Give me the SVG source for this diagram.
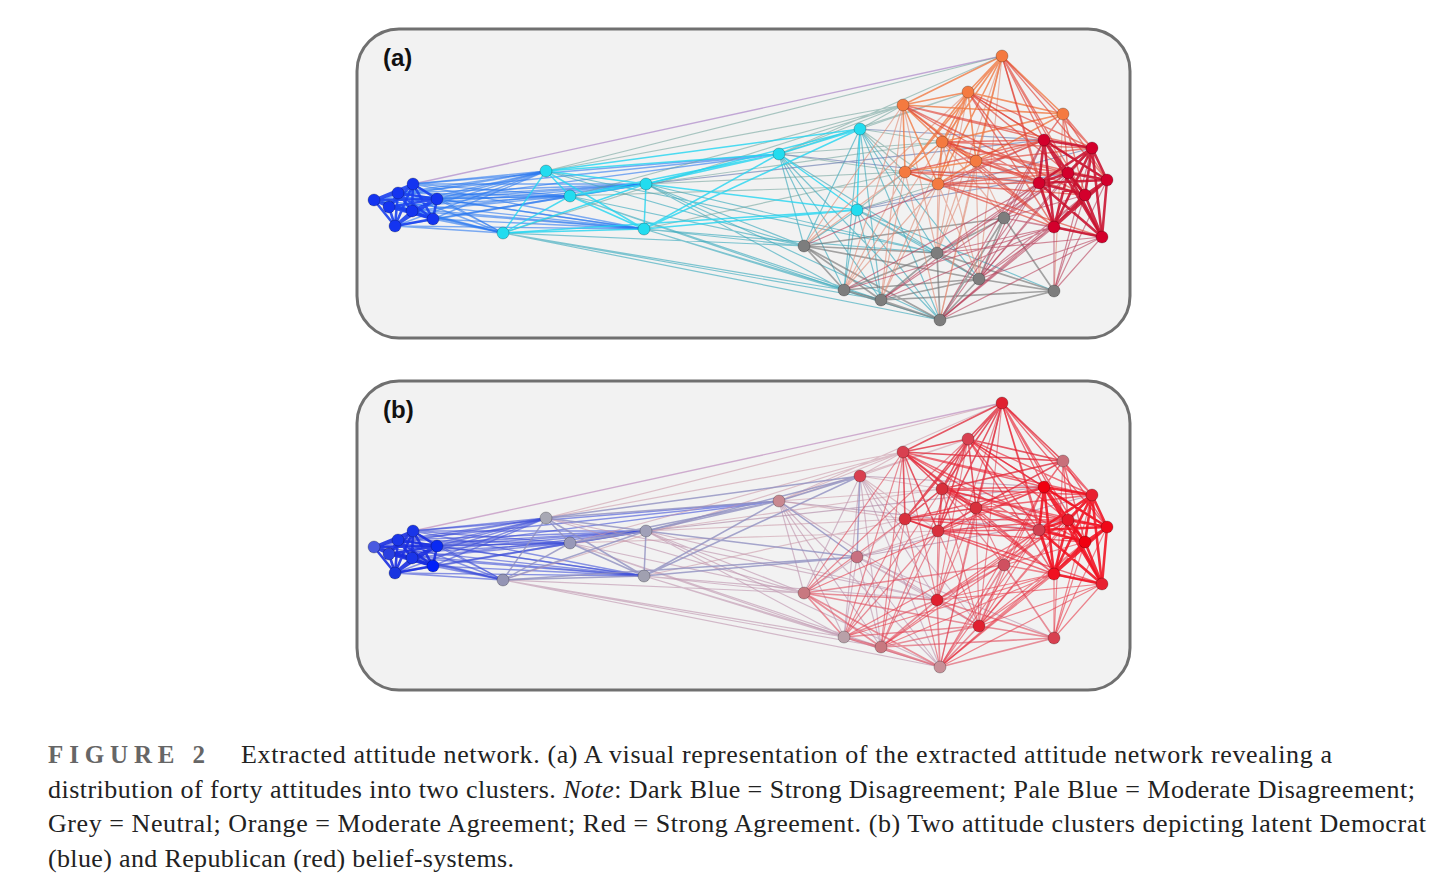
<svg xmlns="http://www.w3.org/2000/svg" width="1456" height="895" viewBox="0 0 1456 895">
<style>
.panel{fill:#f2f2f2;stroke:#707070;stroke-width:3}
.plabel{font-family:"Liberation Sans",Arial,sans-serif;font-weight:bold;font-size:24px;fill:#111}
.cap{font-family:"Liberation Serif","Times New Roman",serif;font-size:26px;fill:#222}
.fig{font-family:"Liberation Serif","Times New Roman",serif;font-size:25px;font-weight:bold;fill:#666}
.edges path{fill:none;stroke-linecap:round}
.bb{stroke:var(--bb);stroke-width:2.6;stroke-opacity:.9}
.bp{stroke:var(--bp);stroke-width:1.4;stroke-opacity:.6}
.bo{stroke:var(--bo);stroke-width:1.4;stroke-opacity:.85}
.pp{stroke:var(--pp);stroke-width:1.5;stroke-opacity:.8}
.pg{stroke:var(--pg);stroke-width:1.2;stroke-opacity:.65}
.po{stroke:var(--po);stroke-width:1.2;stroke-opacity:.55}
.pr{stroke:var(--pr);stroke-width:1.2;stroke-opacity:.65}
.gg{stroke:var(--gg);stroke-width:1.7;stroke-opacity:.65}
.go{stroke:var(--go);stroke-width:1.2;stroke-opacity:.6}
.gr{stroke:var(--gr);stroke-width:1.2;stroke-opacity:.6}
.oo{stroke:var(--oo);stroke-width:1.6;stroke-opacity:.8}
.or{stroke:var(--or);stroke-width:1.4;stroke-opacity:.65}
.rr{stroke:var(--rr);stroke-width:2.6;stroke-opacity:.88}
.n circle{r:6px;stroke:#000;stroke-opacity:.3;stroke-width:.8}
.ab circle{fill:#1434f0}.ap circle{fill:#22dcef}.ao circle{fill:#f47a40}.ar circle{fill:#d3002c}.ag circle{fill:#7d7d7d}
</style>

<rect class="panel" x="357" y="29" width="773" height="309" rx="42"/>
<rect class="panel" x="357" y="381" width="773" height="309" rx="42"/>
<text class="plabel" x="383" y="66">(a)</text>
<text class="plabel" x="383" y="418">(b)</text>

<g id="connectors-a" style="--bb:#1a40ee;--bp:#2a78f0;--bo:#b89ad0;--pp:#22d4f0;--pg:#3eaabd;--po:#6a9e98;--pr:#6a7cb0;--gg:#777777;--go:#e08a74;--gr:#b8405a;--oo:#f07a45;--or:#e04438;--rr:#c8102e">
<g id="edgeset" class="edges">
<path class="bo" d="M413 184L1002 56"/>
<path class="bp" d="M374 200L546 171M374 200L570 196M374 200L503 233M374 200L646 184M374 200L644 229"/>
<path class="bp" d="M398 193L546 171M398 193L570 196M398 193L503 233M398 193L646 184M398 193L644 229"/>
<path class="bp" d="M413 184L546 171M413 184L570 196M413 184L503 233M413 184L646 184M413 184L644 229"/>
<path class="bp" d="M437 199L546 171M437 199L570 196M437 199L503 233M437 199L646 184M437 199L644 229"/>
<path class="bp" d="M389 207L546 171M389 207L570 196M389 207L503 233M389 207L646 184M389 207L644 229"/>
<path class="bp" d="M412 211L546 171M412 211L570 196M412 211L503 233M412 211L646 184M412 211L644 229"/>
<path class="bp" d="M433 219L546 171M433 219L570 196M433 219L503 233M433 219L646 184M433 219L644 229"/>
<path class="bp" d="M395 226L546 171M395 226L570 196M395 226L503 233M395 226L646 184M395 226L644 229"/>
<path class="bp" d="M413 184L779 154M437 199L779 154M398 193L779 154"/>
<path class="pg" d="M503 233L804 246M503 233L844 290M503 233L881 300M503 233L940 320M644 229L804 246M644 229L844 290M644 229L881 300M644 229L940 320M644 229L937 253"/>
<path class="pg" d="M646 184L804 246M646 184L937 253M646 184L844 290M570 196L844 290M570 196L804 246M570 196L881 300M546 171L804 246M546 171L937 253"/>
<path class="pg" d="M779 154L804 246M779 154L844 290M779 154L937 253M779 154L881 300M860 129L804 246M860 129L844 290M860 129L881 300M860 129L937 253M860 129L940 320"/>
<path class="pg" d="M857 210L937 253M857 210L844 290M857 210L881 300M857 210L940 320M857 210L979 279M857 210L804 246M779 154L940 320M857 210L1054 291M860 129L979 279M646 184L940 320"/>
<path class="po" d="M546 171L1002 56M546 171L903 105M570 196L903 105M503 233L903 105M779 154L903 105M779 154L1002 56M860 129L903 105M860 129L942 142M860 129L905 172M646 184L905 172"/>
<path class="po" d="M779 154L942 142M779 154L905 172M860 129L938 184M857 210L905 172M857 210L938 184M646 184L942 142M779 154L968 92M860 129L968 92M570 196L938 184M644 229L905 172"/>
<path class="pr" d="M860 129L1044 140M857 210L1092 148M779 154L1039 183M857 210L1068 173M646 184L1044 140"/>
<path class="pp" d="M546 171L570 196M546 171L503 233M546 171L646 184M570 196L503 233M570 196L646 184M570 196L644 229M503 233L644 229M646 184L644 229M546 171L779 154M546 171L644 229M570 196L779 154M646 184L779 154"/>
<path class="pp" d="M503 233L646 184M779 154L860 129M646 184L860 129M779 154L857 210M646 184L857 210M860 129L857 210M644 229L857 210M644 229L779 154M546 171L860 129M503 233L857 210M644 229L860 129"/>
<path class="gg" d="M804 246L937 253M804 246L844 290M804 246L881 300M937 253L844 290M937 253L881 300M937 253L940 320M937 253L979 279M844 290L881 300M881 300L940 320M844 290L940 320M979 279L940 320M979 279L1054 291"/>
<path class="gg" d="M940 320L1054 291M1004 218L937 253M1004 218L979 279M1004 218L1054 291M881 300L979 279M804 246L940 320M844 290L979 279M804 246L979 279M937 253L1054 291M881 300L1054 291M1004 218L804 246M1004 218L940 320"/>
<path class="go" d="M903 105L804 246M903 105L844 290M905 172L804 246M905 172L881 300M942 142L937 253M938 184L937 253M938 184L979 279M976 161L1004 218M968 92L937 253M1002 56L940 320M903 105L937 253"/>
<path class="go" d="M942 142L844 290M905 172L940 320M976 161L979 279M938 184L881 300M968 92L881 300M942 142L1004 218M1063 114L1054 291M1002 56L937 253M976 161L940 320M938 184L844 290"/>
<path class="go" d="M968 92L804 246M903 105L881 300M942 142L979 279M1002 56L979 279M905 172L844 290M976 161L937 253"/>
<path class="gr" d="M1039 183L937 253M1039 183L979 279M1054 227L979 279M1054 227L1054 291M1054 227L940 320M1102 237L1054 291M1102 237L979 279M1044 140L1004 218M1068 173L1004 218M1085 195L1004 218M1092 148L1054 291"/>
<path class="gr" d="M1107 180L1054 291M1039 183L940 320M1054 227L937 253M1102 237L940 320M1068 173L937 253M1085 195L979 279M1039 183L881 300M1044 140L940 320M1085 195L940 320M1054 227L881 300M1068 173L979 279"/>
<path class="gr" d="M1102 237L937 253M1092 148L979 279M1107 180L940 320M1039 183L844 290M1054 227L844 290M1044 140L979 279M1085 195L1054 291M1039 183L1004 218M1054 227L1004 218M1102 237L1004 218M1044 140L804 246M1068 173L881 300"/>
<path class="oo" d="M1002 56L968 92M1002 56L903 105M1002 56L1063 114M1002 56L942 142M1002 56L976 161M1002 56L905 172M1002 56L938 184M968 92L903 105M968 92L1063 114M968 92L942 142M968 92L976 161M968 92L905 172M968 92L938 184"/>
<path class="oo" d="M903 105L942 142M903 105L905 172M903 105L938 184M903 105L976 161M942 142L976 161M942 142L905 172M942 142L938 184M976 161L938 184M905 172L938 184M1063 114L976 161M1063 114L942 142M976 161L905 172M903 105L1063 114"/>
<path class="or" d="M1002 56L1044 140M1002 56L1092 148M1002 56L1068 173M1002 56L1039 183M1002 56L1085 195M968 92L1044 140M968 92L1092 148M968 92L1068 173M968 92L1039 183M1063 114L1044 140M1063 114L1092 148M1063 114L1068 173M1063 114L1085 195"/>
<path class="or" d="M903 105L1044 140M903 105L1039 183M903 105L1092 148M942 142L1044 140M942 142L1092 148M942 142L1039 183M942 142L1068 173M976 161L1044 140M976 161L1068 173M976 161L1039 183M976 161L1092 148M905 172L1039 183"/>
<path class="or" d="M905 172L1044 140M938 184L1039 183M938 184L1054 227M976 161L1054 227M1063 114L1107 180M938 184L1044 140M938 184L1068 173M905 172L1068 173M942 142L1054 227M903 105L1054 227M968 92L1054 227M1002 56L1054 227M976 161L1085 195"/>
<path class="or" d="M905 172L1102 237M938 184L1085 195M942 142L1107 180M903 105L1085 195M968 92L1107 180M1002 56L1107 180"/>
<path class="rr" d="M1044 140L1092 148M1044 140L1068 173M1044 140L1107 180M1044 140L1039 183M1044 140L1085 195M1044 140L1054 227M1044 140L1102 237M1092 148L1068 173M1092 148L1107 180M1092 148L1039 183M1092 148L1085 195M1092 148L1054 227M1092 148L1102 237M1068 173L1107 180"/>
<path class="rr" d="M1068 173L1039 183M1068 173L1085 195M1068 173L1054 227M1068 173L1102 237M1107 180L1039 183M1107 180L1085 195M1107 180L1054 227M1107 180L1102 237M1039 183L1085 195M1039 183L1054 227M1039 183L1102 237M1085 195L1054 227M1085 195L1102 237M1054 227L1102 237"/>
<path class="bb" d="M374 200L398 193M374 200L413 184M374 200L437 199M374 200L389 207M374 200L412 211M374 200L433 219M374 200L395 226M398 193L413 184M398 193L437 199M398 193L389 207M398 193L412 211M398 193L433 219M398 193L395 226M413 184L437 199"/>
<path class="bb" d="M413 184L389 207M413 184L412 211M413 184L433 219M413 184L395 226M437 199L389 207M437 199L412 211M437 199L433 219M437 199L395 226M389 207L412 211M389 207L433 219M389 207L395 226M412 211L433 219M412 211L395 226M433 219L395 226"/>
</g>
</g>
<g id="connectors-b">
<use href="#edgeset" transform="translate(0 347)" style="--bb:#1a2ee0;--bp:#4050d8;--bo:#c8a0c8;--pp:#9090c0;--pg:#c098b0;--po:#c894a4;--pr:#b08aa8;--gg:#e05868;--go:#e04858;--gr:#e83848;--oo:#e03040;--or:#e82434;--rr:#f01020"/>
</g>

<g id="nodes-a">
<g id="a-b1" class="n ab"><circle cx="374" cy="200"/></g>
<g id="a-b2" class="n ab"><circle cx="398" cy="193"/></g>
<g id="a-b3" class="n ab"><circle cx="413" cy="184"/></g>
<g id="a-b4" class="n ab"><circle cx="437" cy="199"/></g>
<g id="a-b5" class="n ab"><circle cx="389" cy="207"/></g>
<g id="a-b6" class="n ab"><circle cx="412" cy="211"/></g>
<g id="a-b7" class="n ab"><circle cx="433" cy="219"/></g>
<g id="a-b8" class="n ab"><circle cx="395" cy="226"/></g>
<g id="a-p1" class="n ap"><circle cx="546" cy="171"/></g>
<g id="a-p2" class="n ap"><circle cx="570" cy="196"/></g>
<g id="a-p3" class="n ap"><circle cx="503" cy="233"/></g>
<g id="a-p4" class="n ap"><circle cx="646" cy="184"/></g>
<g id="a-p5" class="n ap"><circle cx="644" cy="229"/></g>
<g id="a-p6" class="n ap"><circle cx="779" cy="154"/></g>
<g id="a-p7" class="n ap"><circle cx="860" cy="129"/></g>
<g id="a-p8" class="n ap"><circle cx="857" cy="210"/></g>
<g id="a-o1" class="n ao"><circle cx="1002" cy="56"/></g>
<g id="a-o2" class="n ao"><circle cx="968" cy="92"/></g>
<g id="a-o3" class="n ao"><circle cx="903" cy="105"/></g>
<g id="a-o4" class="n ao"><circle cx="1063" cy="114"/></g>
<g id="a-o5" class="n ao"><circle cx="942" cy="142"/></g>
<g id="a-o6" class="n ao"><circle cx="976" cy="161"/></g>
<g id="a-o7" class="n ao"><circle cx="905" cy="172"/></g>
<g id="a-o8" class="n ao"><circle cx="938" cy="184"/></g>
<g id="a-r1" class="n ar"><circle cx="1044" cy="140"/></g>
<g id="a-r2" class="n ar"><circle cx="1092" cy="148"/></g>
<g id="a-r3" class="n ar"><circle cx="1068" cy="173"/></g>
<g id="a-r4" class="n ar"><circle cx="1107" cy="180"/></g>
<g id="a-r5" class="n ar"><circle cx="1039" cy="183"/></g>
<g id="a-r6" class="n ar"><circle cx="1085" cy="195"/></g>
<g id="a-r7" class="n ar"><circle cx="1054" cy="227"/></g>
<g id="a-r8" class="n ar"><circle cx="1102" cy="237"/></g>
<g id="a-g1" class="n ag"><circle cx="1004" cy="218"/></g>
<g id="a-g2" class="n ag"><circle cx="804" cy="246"/></g>
<g id="a-g3" class="n ag"><circle cx="937" cy="253"/></g>
<g id="a-g4" class="n ag"><circle cx="979" cy="279"/></g>
<g id="a-g5" class="n ag"><circle cx="844" cy="290"/></g>
<g id="a-g6" class="n ag"><circle cx="881" cy="300"/></g>
<g id="a-g7" class="n ag"><circle cx="1054" cy="291"/></g>
<g id="a-g8" class="n ag"><circle cx="940" cy="320"/></g>
</g>

<g id="nodes-b">
<g id="b-b1" class="n"><circle cx="374" cy="547" fill="#4a5ae0"/></g>
<g id="b-b2" class="n"><circle cx="398" cy="540" fill="#1a35e8"/></g>
<g id="b-b3" class="n"><circle cx="413" cy="531" fill="#1a35e8"/></g>
<g id="b-b4" class="n"><circle cx="437" cy="546" fill="#0a2af2"/></g>
<g id="b-b5" class="n"><circle cx="389" cy="554" fill="#2a40e0"/></g>
<g id="b-b6" class="n"><circle cx="412" cy="558" fill="#1a35e8"/></g>
<g id="b-b7" class="n"><circle cx="433" cy="566" fill="#0020f8"/></g>
<g id="b-b8" class="n"><circle cx="395" cy="573" fill="#1a35e0"/></g>
<g id="b-p1" class="n"><circle cx="546" cy="518" fill="#a8a8b4"/></g>
<g id="b-p2" class="n"><circle cx="570" cy="543" fill="#9898b8"/></g>
<g id="b-p3" class="n"><circle cx="503" cy="580" fill="#9494b4"/></g>
<g id="b-p4" class="n"><circle cx="646" cy="531" fill="#a0a0b8"/></g>
<g id="b-p5" class="n"><circle cx="644" cy="576" fill="#a0a0b0"/></g>
<g id="b-p6" class="n"><circle cx="779" cy="501" fill="#c88890"/></g>
<g id="b-p7" class="n"><circle cx="860" cy="476" fill="#d84050"/></g>
<g id="b-p8" class="n"><circle cx="857" cy="557" fill="#c87080"/></g>
<g id="b-o1" class="n"><circle cx="1002" cy="403" fill="#e02030"/></g>
<g id="b-o2" class="n"><circle cx="968" cy="439" fill="#d84050"/></g>
<g id="b-o3" class="n"><circle cx="903" cy="452" fill="#d84050"/></g>
<g id="b-o4" class="n"><circle cx="1063" cy="461" fill="#c8707a"/></g>
<g id="b-o5" class="n"><circle cx="942" cy="489" fill="#d8303c"/></g>
<g id="b-o6" class="n"><circle cx="976" cy="508" fill="#d8303c"/></g>
<g id="b-o7" class="n"><circle cx="905" cy="519" fill="#d8303c"/></g>
<g id="b-o8" class="n"><circle cx="938" cy="531" fill="#d8303c"/></g>
<g id="b-r1" class="n"><circle cx="1044" cy="487" fill="#f00010"/></g>
<g id="b-r2" class="n"><circle cx="1092" cy="495" fill="#e82030"/></g>
<g id="b-r3" class="n"><circle cx="1068" cy="520" fill="#e81828"/></g>
<g id="b-r4" class="n"><circle cx="1107" cy="527" fill="#f00818"/></g>
<g id="b-r5" class="n"><circle cx="1039" cy="530" fill="#d04050"/></g>
<g id="b-r6" class="n"><circle cx="1085" cy="542" fill="#f00010"/></g>
<g id="b-r7" class="n"><circle cx="1054" cy="574" fill="#f01020"/></g>
<g id="b-r8" class="n"><circle cx="1102" cy="584" fill="#e82030"/></g>
<g id="b-g1" class="n"><circle cx="1004" cy="565" fill="#d05060"/></g>
<g id="b-g2" class="n"><circle cx="804" cy="593" fill="#c87880"/></g>
<g id="b-g3" class="n"><circle cx="937" cy="600" fill="#e02030"/></g>
<g id="b-g4" class="n"><circle cx="979" cy="626" fill="#e02030"/></g>
<g id="b-g5" class="n"><circle cx="844" cy="637" fill="#b8a0a8"/></g>
<g id="b-g6" class="n"><circle cx="881" cy="647" fill="#c87880"/></g>
<g id="b-g7" class="n"><circle cx="1054" cy="638" fill="#d84050"/></g>
<g id="b-g8" class="n"><circle cx="940" cy="667" fill="#c89098"/></g>
</g>

<g id="caption">
<text class="fig" x="48" y="763" textLength="157" lengthAdjust="spacing">FIGURE 2</text>
<text class="cap" x="241" y="763" textLength="1091" lengthAdjust="spacing">Extracted attitude network. (a) A visual representation of the extracted attitude network revealing a</text>
<text class="cap" x="48" y="797.5" textLength="1367" lengthAdjust="spacing">distribution of forty attitudes into two clusters. <tspan font-style="italic">Note</tspan>: Dark Blue = Strong Disagreement; Pale Blue = Moderate Disagreement;</text>
<text class="cap" x="48" y="832" textLength="1378" lengthAdjust="spacing">Grey = Neutral; Orange = Moderate Agreement; Red = Strong Agreement. (b) Two attitude clusters depicting latent Democrat</text>
<text class="cap" x="48" y="866.5" textLength="466" lengthAdjust="spacing">(blue) and Republican (red) belief-systems.</text>
</g>
</svg>
